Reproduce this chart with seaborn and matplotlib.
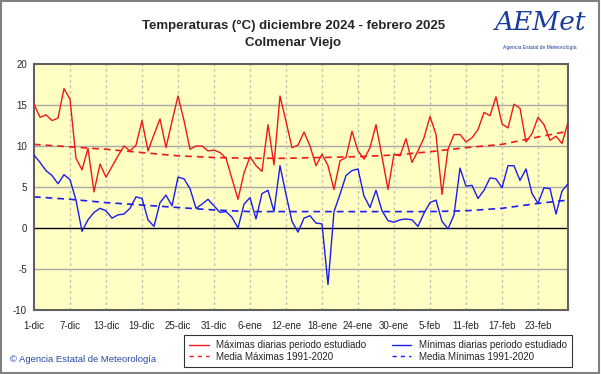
import numpy as np
import pandas as pd
import matplotlib
matplotlib.use("Agg")
import matplotlib.pyplot as plt
import seaborn as sns
from matplotlib.lines import Line2D
from matplotlib.patches import Rectangle

# ----------- Data -----------
tick_labels = ["1-dic", "7-dic", "13-dic", "19-dic", "25-dic", "31-dic", "6-ene", "12-ene",
               "18-ene", "24-ene", "30-ene", "5-feb", "11-feb", "17-feb", "23-feb"]

# daily values 1-dic-2024 .. 28-feb-2025 (90 days)
t_max = [15.1, 13.5, 13.8, 13.1, 13.4, 17.0, 15.7, 8.5, 7.1, 9.7,
         4.4, 7.8, 6.2, 7.5, 8.8, 10.0, 9.4, 10.1, 13.1, 9.4,
         11.4, 13.3, 9.8, 13.0, 16.1, 13.1, 9.6, 10.0, 10.0, 9.4,
         9.5, 9.2, 8.5, 6.0, 3.5, 6.7, 8.7, 7.6, 6.9, 12.6,
         7.7, 16.1, 13.0, 9.8, 10.1, 11.7, 10.0, 7.6, 9.0, 7.6,
         4.7, 8.2, 8.6, 11.8, 9.4, 8.4, 9.8, 12.6, 8.7, 4.7,
         9.0, 8.8, 10.9, 8.0, 9.4, 11.0, 13.6, 11.4, 4.1, 9.6,
         11.4, 11.4, 10.5, 11.0, 12.0, 14.1, 13.7, 16.0, 12.7, 12.2,
         15.1, 14.6, 10.5, 11.5, 13.5, 12.6, 10.7, 11.2, 10.3, 12.9]

t_min = [8.9, 8.0, 7.0, 6.4, 5.4, 6.5, 5.9, 3.4, -0.4, 1.0,
         1.9, 2.4, 2.1, 1.2, 1.6, 1.7, 2.4, 3.8, 3.6, 1.0,
         0.2, 3.1, 4.0, 2.7, 6.2, 6.0, 4.8, 2.4, 2.9, 3.5,
         2.7, 1.9, 2.0, 1.3, 0.0, 2.9, 3.7, 1.1, 4.2, 4.6,
         2.0, 7.6, 4.1, 0.8, -0.5, 1.2, 1.5, 0.6, 0.5, -6.9,
         2.0, 4.1, 6.4, 7.0, 7.2, 3.9, 2.5, 4.6, 2.1, 0.9,
         0.7, 1.0, 1.1, 1.0, 0.2, 1.8, 3.1, 3.4, 0.8, -0.1,
         1.6, 7.3, 5.1, 5.2, 3.6, 4.6, 6.1, 6.0, 4.9, 7.6,
         7.6, 5.8, 7.2, 4.2, 3.0, 4.9, 4.8, 1.7, 4.5, 5.4]

# 1991-2020 means, read at each tick date and at 28-feb
mean_days = [0, 6, 12, 18, 24, 30, 36, 42, 48, 54, 60, 66, 72, 78, 84, 89]
mean_max = [10.2, 9.9, 9.6, 9.2, 8.8, 8.6, 8.5, 8.5, 8.6, 8.7, 8.9, 9.3, 9.8, 10.2, 11.1, 11.8]
mean_min = [3.8, 3.5, 3.1, 2.8, 2.5, 2.2, 2.0, 2.0, 2.0, 2.0, 2.0, 2.0, 2.1, 2.4, 3.0, 3.4]

red = "#f01818"
blue = "#1c1cf0"

daily = pd.DataFrame({"day": np.arange(len(t_max)), "tmax": t_max, "tmin": t_min})
means = pd.DataFrame({"day": mean_days, "mmax": mean_max, "mmin": mean_min})

# ----------- Figure -----------
sns.set_style("white")
plt.rcParams["font.family"] = ["Liberation Sans", "DejaVu Sans"]
plt.rcParams["axes.unicode_minus"] = False

fig = plt.figure(figsize=(6.01, 3.74), dpi=100)
ax = fig.add_axes([34 / 601, 1 - 310 / 374, 534 / 601, 246 / 374])
ax.set_facecolor("#ffffc4")

# grid
for y in [15, 10, 5, -5]:
    ax.axhline(y, color="#a8a8a8", lw=1.0, zorder=1)
ax.axhline(0, color="black", lw=1.0, zorder=1)
for d in range(6, 90, 6):
    ax.axvline(d, color="#c4c4b0", lw=1.0, ls=(0, (2, 2)), zorder=1)

sns.lineplot(data=daily, x="day", y="tmax", color=red, lw=1.0, ax=ax, zorder=3)
sns.lineplot(data=daily, x="day", y="tmin", color=blue, lw=1.0, ax=ax, zorder=3)
sns.lineplot(data=means, x="day", y="mmax", color=red, lw=1.2, ls=(0, (4, 3)), ax=ax, zorder=2)
sns.lineplot(data=means, x="day", y="mmin", color=blue, lw=1.2, ls=(0, (4, 3)), ax=ax, zorder=2)

ax.set_xlim(0, 89)
ax.set_ylim(-10, 20)
ax.set_xticks(range(0, 90, 6))
ax.set_xticklabels(tick_labels)
ax.set_yticks(range(-10, 25, 5))
ax.set_xlabel("")
ax.set_ylabel("")
ax.tick_params(axis="x", labelsize=7, length=0, pad=8)
ax.tick_params(axis="y", labelsize=7, length=0, pad=5)
for side in ["left", "bottom", "top", "right"]:
    ax.spines[side].set_color("#606060")
    ax.spines[side].set_linewidth(1.5)

# ----------- Titles -----------
fig.text(0.488, 1 - 26 / 374, "Temperaturas (°C) diciembre 2024 - febrero 2025",
         ha="center", va="center", fontsize=9.5, fontweight="bold")
fig.text(0.488, 1 - 43 / 374, "Colmenar Viejo",
         ha="center", va="center", fontsize=9.5, fontweight="bold")

# logo
fig.text(540 / 601, 1 - 22 / 374, "AEMet", ha="center", va="center", fontsize=19,
         color="#1a3a9c", style="italic", family=["DejaVu Serif"])
fig.text(540 / 601, 1 - 48 / 374, "Agencia Estatal de Meteorología", ha="center",
         va="center", fontsize=3.6, color="#1a3a9c")

fig.text(10 / 601, 1 - 359 / 374, "© Agencia Estatal de Meteorología", ha="left",
         va="center", fontsize=6.8, color="#2a4aa8")

# ----------- Legend -----------
handles = [Line2D([], [], color=red, lw=1.0),
           Line2D([], [], color=red, lw=1.0, ls=(0, (3, 3))),
           Line2D([], [], color=blue, lw=1.0),
           Line2D([], [], color=blue, lw=1.0, ls=(0, (3, 3)))]
labels = ["Máximas diarias periodo estudiado", "Media Máximas 1991-2020",
          "Mínimas diarias periodo estudiado", "Media Mínimas 1991-2020"]
leg = fig.legend(handles, labels, ncol=2, loc="center", bbox_to_anchor=(378 / 601, 1 - 351 / 374),
                 fontsize=7, frameon=True, fancybox=False, edgecolor="black",
                 handlelength=2.0, columnspacing=2.6, labelspacing=0.15,
                 borderpad=0.5, handletextpad=0.8)
leg.get_frame().set_linewidth(0.8)

# outer frame
fig.patches.append(Rectangle((0.002, 0.003), 0.995, 0.993, transform=fig.transFigure,
                             fill=False, edgecolor="#808080", lw=1.5))

fig.savefig("out.png", dpi=100)
